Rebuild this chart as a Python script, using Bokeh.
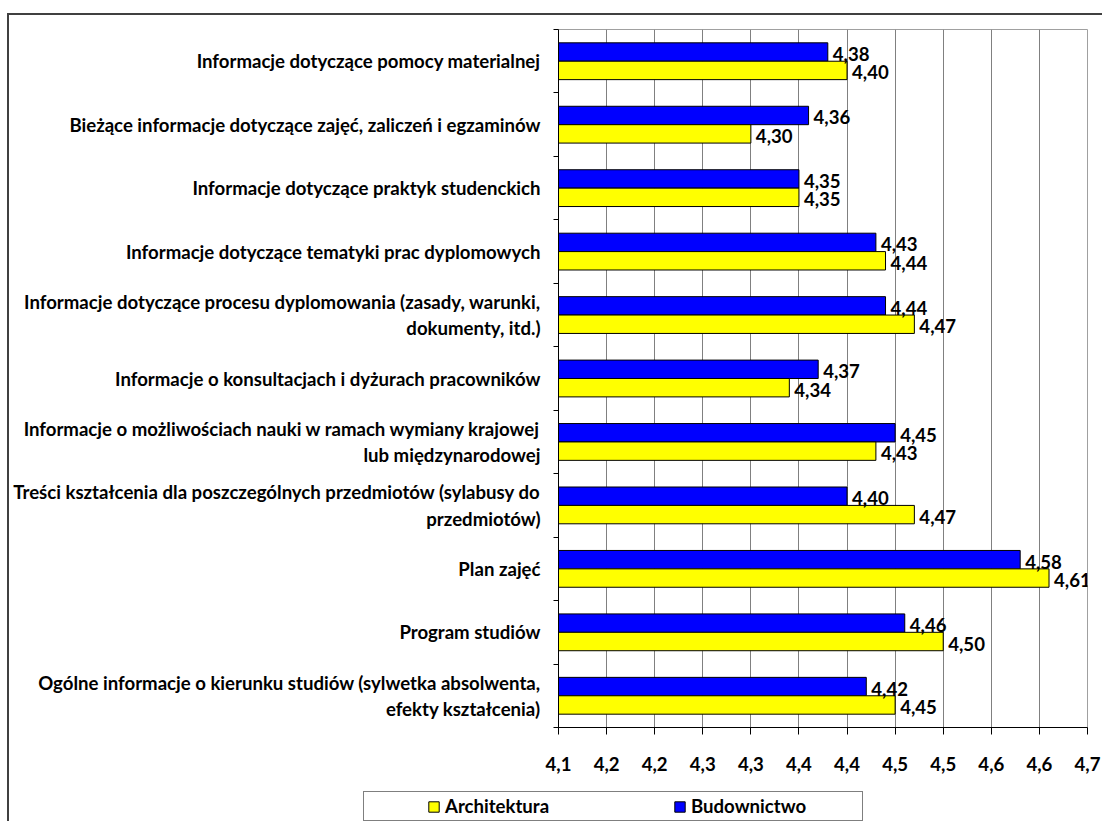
from bokeh.plotting import figure
from bokeh.layouts import column
from bokeh.models import Range1d, FixedTicker, Legend, LegendItem, ColumnDataSource
from bokeh.core.properties import value
from bokeh.embed import file_html
from bokeh.resources import INLINE

categories = [
    "Informacje dotyczące pomocy materialnej",
    "Bieżące informacje dotyczące zajęć, zaliczeń i egzaminów",
    "Informacje dotyczące praktyk studenckich",
    "Informacje dotyczące tematyki prac dyplomowych",
    "Informacje dotyczące procesu dyplomowania (zasady, warunki,\ndokumenty, itd.)",
    "Informacje o konsultacjach i dyżurach pracowników",
    "Informacje o możliwościach nauki w ramach wymiany krajowej\nlub międzynarodowej",
    "Treści kształcenia dla poszczególnych przedmiotów (sylabusy do\nprzedmiotów)",
    "Plan zajęć",
    "Program studiów",
    "Ogólne informacje o kierunku studiów (sylwetka absolwenta,\nefekty kształcenia)",
]
budownictwo = [4.38, 4.36, 4.35, 4.43, 4.44, 4.37, 4.45, 4.40, 4.58, 4.46, 4.42]
architektura = [4.40, 4.30, 4.35, 4.44, 4.47, 4.34, 4.43, 4.47, 4.61, 4.50, 4.45]
series_names = ["Architektura", "Budownictwo"]
series_colors = ["#FFFF00", "#0000FF"]
x_ticks = [4.10, 4.15, 4.20, 4.25, 4.30, 4.35, 4.40, 4.45, 4.50, 4.55, 4.60, 4.65]
x_tick_labels = ["4,1", "4,2", "4,2", "4,3", "4,3", "4,4", "4,4", "4,5", "4,5", "4,6", "4,6", "4,7"]

FONT = "Lato"
FS = "18.6px"
W = 1093
n = len(categories)
ypos = [n - 1 - k for k in range(n)]
off = 0.145
bar_h = 0.29

src = ColumnDataSource(dict(
    y_b=[y + off for y in ypos],
    y_a=[y - off for y in ypos],
    b=budownictwo,
    a=architektura,
    lb=[f"{v:.2f}".replace(".", ",") for v in budownictwo],
    la=[f"{v:.2f}".replace(".", ",") for v in architektura],
))

p = figure(
    width=W, height=772,
    x_range=Range1d(x_ticks[0], x_ticks[-1]),
    y_range=Range1d(-0.5, n - 0.5),
    output_backend="svg", toolbar_location=None,
    min_border_left=549, min_border_right=15, min_border_top=14, min_border_bottom=60,
)
p.background_fill_color = "white"
p.border_fill_color = "white"
p.outline_line_color = "#A0A0A0"
p.outline_line_width = 1

rb = p.hbar(y="y_b", left=x_ticks[0], right="b", height=bar_h, source=src,
            fill_color=series_colors[1], line_color="#000000", line_width=1)
ra = p.hbar(y="y_a", left=x_ticks[0], right="a", height=bar_h, source=src,
            fill_color=series_colors[0], line_color="#000000", line_width=1)

for xcol, ycol, tcol in (("b", "y_b", "lb"), ("a", "y_a", "la")):
    p.text(x=xcol, y=ycol, text=tcol, source=src, x_offset=5, y_offset=2,
           text_baseline="middle", text_align="left",
           text_font=value(FONT), text_font_style="bold",
           text_font_size=FS, text_color="#000000")

# x axis
xt = FixedTicker(ticks=x_ticks)
p.xaxis.ticker = xt
p.xaxis.major_label_overrides = dict(zip(x_ticks, x_tick_labels))
p.xaxis.major_tick_out = 7
p.xaxis.major_tick_in = 0
p.xaxis.minor_tick_out = 0
p.xaxis.minor_tick_in = 0
p.xaxis.major_label_standoff = 22
p.xaxis.axis_line_color = "#000000"
p.xaxis.major_tick_line_color = "#000000"
p.xaxis.major_label_text_font = FONT
p.xaxis.major_label_text_font_style = "bold"
p.xaxis.major_label_text_font_size = FS
p.xaxis.major_label_text_color = "#000000"
p.xgrid.ticker = xt
p.xgrid.grid_line_color = "#808080"
p.xgrid.grid_line_width = 1

# y axis
yt = FixedTicker(ticks=ypos, minor_ticks=[i - 0.5 for i in range(n + 1)])
p.yaxis.ticker = yt
p.yaxis.major_label_overrides = {y: c for y, c in zip(ypos, categories)}
p.yaxis.major_tick_out = 0
p.yaxis.major_tick_in = 0
p.yaxis.minor_tick_out = 5
p.yaxis.minor_tick_in = 0
p.yaxis.minor_tick_line_color = "#000000"
p.yaxis.major_label_standoff = 13
p.yaxis.axis_line_color = "#000000"
p.yaxis.major_label_text_font = FONT
p.yaxis.major_label_text_font_style = "bold"
p.yaxis.major_label_text_font_size = FS
p.yaxis.major_label_text_color = "#000000"
p.ygrid.visible = False

# legend strip (own figure so the legend is not clipped by the plot frame)
leg = figure(
    width=W, height=34,
    x_range=Range1d(0, 1), y_range=Range1d(0, 1),
    x_axis_type=None, y_axis_type=None,
    output_backend="svg", toolbar_location=None,
    min_border_left=0, min_border_right=0, min_border_top=0, min_border_bottom=0,
)
leg.frame_align = False
leg.outline_line_color = None
leg.background_fill_color = "white"
leg.border_fill_color = "white"
leg.xgrid.visible = False
leg.ygrid.visible = False
# legend swatch renderers (their bars lie outside this strip's ranges)
la_r = leg.hbar(y="y_a", left=x_ticks[0], right="a", height=bar_h, source=src,
                fill_color=series_colors[0], line_color="#000000", line_width=1)
lb_r = leg.hbar(y="y_b", left=x_ticks[0], right="b", height=bar_h, source=src,
                fill_color=series_colors[1], line_color="#000000", line_width=1)

legend = Legend(
    items=[LegendItem(label=series_names[0], renderers=[la_r]),
           LegendItem(label=series_names[1], renderers=[lb_r])],
    location=(354, 0),
    orientation="horizontal",
    glyph_width=13, glyph_height=13,
    label_standoff=5, label_width=168, spacing=60,
    padding=3, margin=0,
    border_line_color="#000000", border_line_width=1,
    background_fill_color="white", background_fill_alpha=1,
    label_text_font=FONT, label_text_font_style="bold",
    label_text_font_size=FS, label_text_color="#000000",
    title="\u00a0", title_location="left",
    title_text_font_size="2px", title_standoff=58,
)
leg.add_layout(legend)

layout = column(
    p, leg, spacing=0,
    styles={"margin-top": "13px", "margin-left": "7px",
            "border-left": "2px solid #404040", "border-top": "2px solid #404040"},
)

open("out.html", "w").write(file_html(layout, INLINE))
